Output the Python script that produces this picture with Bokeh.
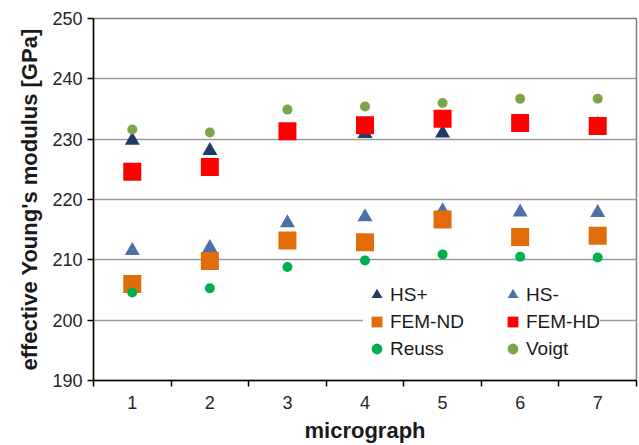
from bokeh.plotting import figure
from bokeh.models import FixedTicker, Legend, LegendItem, Range1d
from bokeh.embed import file_html
from bokeh.resources import INLINE

micrograph = [1, 2, 3, 4, 5, 6, 7]
hs_plus = [229.8, 228.1, 230.9, 230.9, 231.0, 232.2, 232.4]
hs_minus = [211.5, 212.0, 216.1, 217.1, 218.1, 217.9, 217.8]
fem_nd = [206.0, 209.8, 213.2, 212.9, 216.7, 213.8, 214.0]
fem_hd = [224.6, 225.4, 231.3, 232.3, 233.4, 232.7, 232.2]
reuss = [204.6, 205.3, 208.8, 209.9, 210.9, 210.5, 210.4]
voigt = [231.6, 231.1, 234.9, 235.4, 236.0, 236.7, 236.7]

y_ticks = [190, 200, 210, 220, 230, 240, 250]
x_minor = [0.5, 1.5, 2.5, 3.5, 4.5, 5.5, 6.5, 7.5]

FONT = "Liberation Sans"

p = figure(width=639, height=445, output_backend="svg", toolbar_location=None,
           x_range=Range1d(0.5, 7.5), y_range=Range1d(190, 250),
           min_border_left=93, min_border_right=3, min_border_top=18, min_border_bottom=64)
p.background_fill_color = "white"
p.border_fill_color = "white"
p.outline_line_color = "#808080"
p.outline_line_width = 1.5

# axes
p.xaxis.ticker = FixedTicker(ticks=micrograph, minor_ticks=x_minor)
p.yaxis.ticker = FixedTicker(ticks=y_ticks)
for ax in (p.xaxis[0], p.yaxis[0]):
    ax.axis_line_color = "black"
    ax.axis_line_width = 1.5
    ax.major_label_text_font = FONT
    ax.major_label_text_font_size = "18px"
    ax.major_label_text_color = "#262626"
    ax.axis_label_text_font = FONT
    ax.axis_label_text_font_size = "22px"
    ax.axis_label_text_font_style = "bold"
    ax.axis_label_text_color = "#1a1a1a"

p.xaxis.axis_label = "micrograph"
p.xaxis.major_tick_line_color = None
p.xaxis.minor_tick_line_color = "black"
p.xaxis.minor_tick_line_width = 1.5
p.xaxis.minor_tick_out = 6
p.xaxis.minor_tick_in = 0
p.xaxis.major_label_standoff = 9
p.xaxis.axis_label_standoff = 6

p.yaxis.axis_label = "effective Young's modulus [GPa]"
p.yaxis.major_tick_line_color = "black"
p.yaxis.major_tick_line_width = 1.5
p.yaxis.major_tick_out = 6
p.yaxis.major_tick_in = 0
p.yaxis.minor_tick_line_color = None
p.yaxis.major_label_standoff = 5
p.yaxis.axis_label_standoff = 7

p.xgrid.grid_line_color = None
p.ygrid.ticker = FixedTicker(ticks=y_ticks)
p.ygrid.grid_line_color = "#9a9a9a"
p.ygrid.grid_line_width = 1.5

r_hsp = p.scatter(micrograph, hs_plus, marker="triangle", size=15, fill_color="#1f3b68", line_color=None)
r_hsm = p.scatter(micrograph, hs_minus, marker="triangle", size=15, fill_color="#4a72a6", line_color=None)
r_fnd = p.scatter(micrograph, fem_nd, marker="square", size=18, fill_color="#e36c0a", line_color=None)
r_fhd = p.scatter(micrograph, fem_hd, marker="square", size=18, fill_color="#ff0000", line_color=None)
r_reu = p.scatter(micrograph, reuss, marker="circle", size=10, fill_color="#00b050", line_color=None)
r_voi = p.scatter(micrograph, voigt, marker="circle", size=10, fill_color="#7aa648", line_color=None)


def make_legend(items, loc, lw, pad):
    lg = Legend(items=items, location=loc, orientation="vertical")
    lg.background_fill_color = "white"
    lg.background_fill_alpha = 1.0
    lg.border_line_color = None
    lg.label_text_font = FONT
    lg.label_text_font_size = "19px"
    lg.label_text_color = "#1a1a1a"
    lg.glyph_width = 27
    lg.glyph_height = 27
    lg.label_height = 27
    lg.label_width = lw
    lg.label_standoff = 0
    lg.spacing = 0
    lg.padding = pad
    lg.margin = 0
    return lg


left = make_legend([LegendItem(label="HS+", renderers=[r_hsp]),
                    LegendItem(label="FEM-ND", renderers=[r_fnd]),
                    LegendItem(label="Reuss", renderers=[r_reu])], (270, 18), 110, 9)
right = make_legend([LegendItem(label="HS-", renderers=[r_hsm]),
                     LegendItem(label="FEM-HD", renderers=[r_fhd]),
                     LegendItem(label="Voigt", renderers=[r_voi])], (406, 18), 0, 2)
p.add_layout(left, "center")
p.add_layout(right, "center")

open("out.html", "w").write(file_html(p, INLINE))
